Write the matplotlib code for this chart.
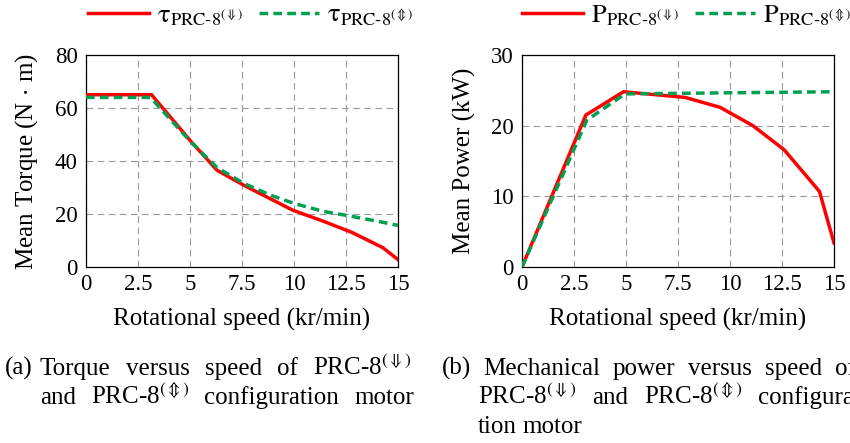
import numpy as np
import matplotlib
matplotlib.use("Agg")
import matplotlib.pyplot as plt

plt.rcParams["font.family"] = ["Liberation Serif", "DejaVu Serif"]
plt.rcParams["mathtext.fontset"] = "stix"
plt.rcParams["font.size"] = 18

# Torque vs speed (kr/min)
speed_torque_down = [0, 3.15, 5.0, 6.3, 7.6, 9.95, 11.4, 12.8, 14.27, 15.0]
torque_down = [65.0, 65.0, 47.8, 36.5, 30.8, 21.4, 17.3, 13.0, 7.3, 2.8]
speed_torque_ud = [0, 3.1, 5.0, 6.3, 7.6, 8.9, 10.0, 11.4, 12.5, 14.0, 15.0]
torque_ud = [64.0, 64.0, 47.5, 37.5, 31.5, 27.0, 24.0, 21.0, 19.5, 17.3, 15.7]

# Mechanical power vs speed (kr/min)
speed_power_down = [0, 3.07, 4.88, 7.84, 9.52, 11.1, 12.6, 14.3, 15.0]
power_down = [0.0, 21.5, 24.8, 24.0, 22.6, 20.0, 16.6, 10.7, 3.4]
speed_power_ud = [0, 3.12, 4.96, 15.0]
power_ud = [0.0, 20.8, 24.5, 24.8]

x_ticks = [0, 2.5, 5, 7.5, 10, 12.5, 15]
x_ticklabels = ["0", "2.5", "5", "7.5", "10", "12.5", "15"]

RED = "#ff0000"
GREEN = "#00a050"

lbl_t_down = r"$\mathrm{\tau}_{\mathrm{PRC\text{-}8}^{(\Downarrow)}}$"
lbl_t_ud = r"$\mathrm{\tau}_{\mathrm{PRC\text{-}8}^{(\Updownarrow)}}$"
lbl_p_down = r"$\mathrm{P}_{\mathrm{PRC\text{-}8}^{(\Downarrow)}}$"
lbl_p_ud = r"$\mathrm{P}_{\mathrm{PRC\text{-}8}^{(\Updownarrow)}}$"

fig = plt.figure(figsize=(8.5, 4.43), dpi=100)
W, H = fig.get_size_inches() * fig.dpi
ax1 = fig.add_axes([86 / W, 1 - 267 / H, 312 / W, 212 / H])
ax2 = fig.add_axes([522 / W, 1 - 267 / H, 312 / W, 212 / H])


def style_axes(ax, ymax, yticks, ylabel):
    ax.set_xlim(0, 15)
    ax.set_ylim(0, ymax)
    ax.set_xticks(x_ticks)
    ax.set_xticklabels(x_ticklabels)
    ax.set_yticks(yticks)
    ax.grid(True, color="#999999", linewidth=0.8, linestyle=(0, (6, 4)))
    ax.tick_params(length=0, labelsize=16.5)
    ax.tick_params(axis="x", pad=5)
    ax.tick_params(axis="y", pad=6)
    for s in ax.spines.values():
        s.set_linewidth(0.9)
    ax.set_xlabel("Rotational speed (kr/min)", fontsize=18, labelpad=9)
    ax.set_ylabel(ylabel, fontsize=18, labelpad=11)


ax1.plot(speed_torque_down, torque_down, color=RED, lw=2.5, label=lbl_t_down,
         solid_joinstyle="miter", zorder=3)
ax1.plot(speed_torque_ud, torque_ud, color=GREEN, lw=2.5,
         linestyle=(0, (2.5, 1.5)), label=lbl_t_ud, zorder=4)
style_axes(ax1, 80, [0, 20, 40, 60, 80], r"Mean Torque (N$\,\cdot\,$m)")

ax2.plot(speed_power_down, power_down, color=RED, lw=2.5, label=lbl_p_down,
         solid_joinstyle="miter", zorder=3)
ax2.plot(speed_power_ud, power_ud, color=GREEN, lw=2.5,
         linestyle=(0, (2.5, 1.5)), label=lbl_p_ud, zorder=4)
style_axes(ax2, 30, [0, 10, 20, 30], "Mean Power (kW)")

for ax, lx in ((ax1, 2 / 312), (ax2, 0.0)):
    ax.legend(loc="center left", bbox_to_anchor=(lx, 1.185), ncol=2,
              frameon=False, fontsize=19, handlelength=2.3,
              handletextpad=0.3, columnspacing=0.6, borderpad=0,
              borderaxespad=0)

# captions, words spread evenly between left and right limits
fig.canvas.draw()
renderer = fig.canvas.get_renderer()
CAP = 18


def justify(words, x0, x1, y):
    texts = [fig.text(0, 1 - y / H, w, fontsize=CAP, va="baseline")
             for w in words]
    widths = [t.get_window_extent(renderer).width for t in texts]
    gap = (x1 - x0 - sum(widths)) / max(len(words) - 1, 1)
    x = x0
    for t, w in zip(texts, widths):
        t.set_x(x / W)
        x += w + gap


def left(words, x0, y, gap=6):
    x = x0
    for w in words:
        t = fig.text(x / W, 1 - y / H, w, fontsize=CAP, va="baseline")
        x += t.get_window_extent(renderer).width + gap


down = r"PRC-8$^{(\Downarrow)}$"
updown = r"PRC-8$^{(\Updownarrow)}$"
left(["(a)"], 5, 375)
justify(["Torque", "versus", "speed", "of", down], 40, 411, 375)
justify(["and", updown, "configuration", "motor"], 40, 414, 404)
left(["(b)"], 442, 375)
justify(["Mechanical", "power", "versus", "speed", "of"], 483, 856, 375)
justify([down, "and", updown, "configura-"], 478, 862, 404)
left(["tion", "motor"], 478, 433)

fig.savefig("out.png", dpi=100)
